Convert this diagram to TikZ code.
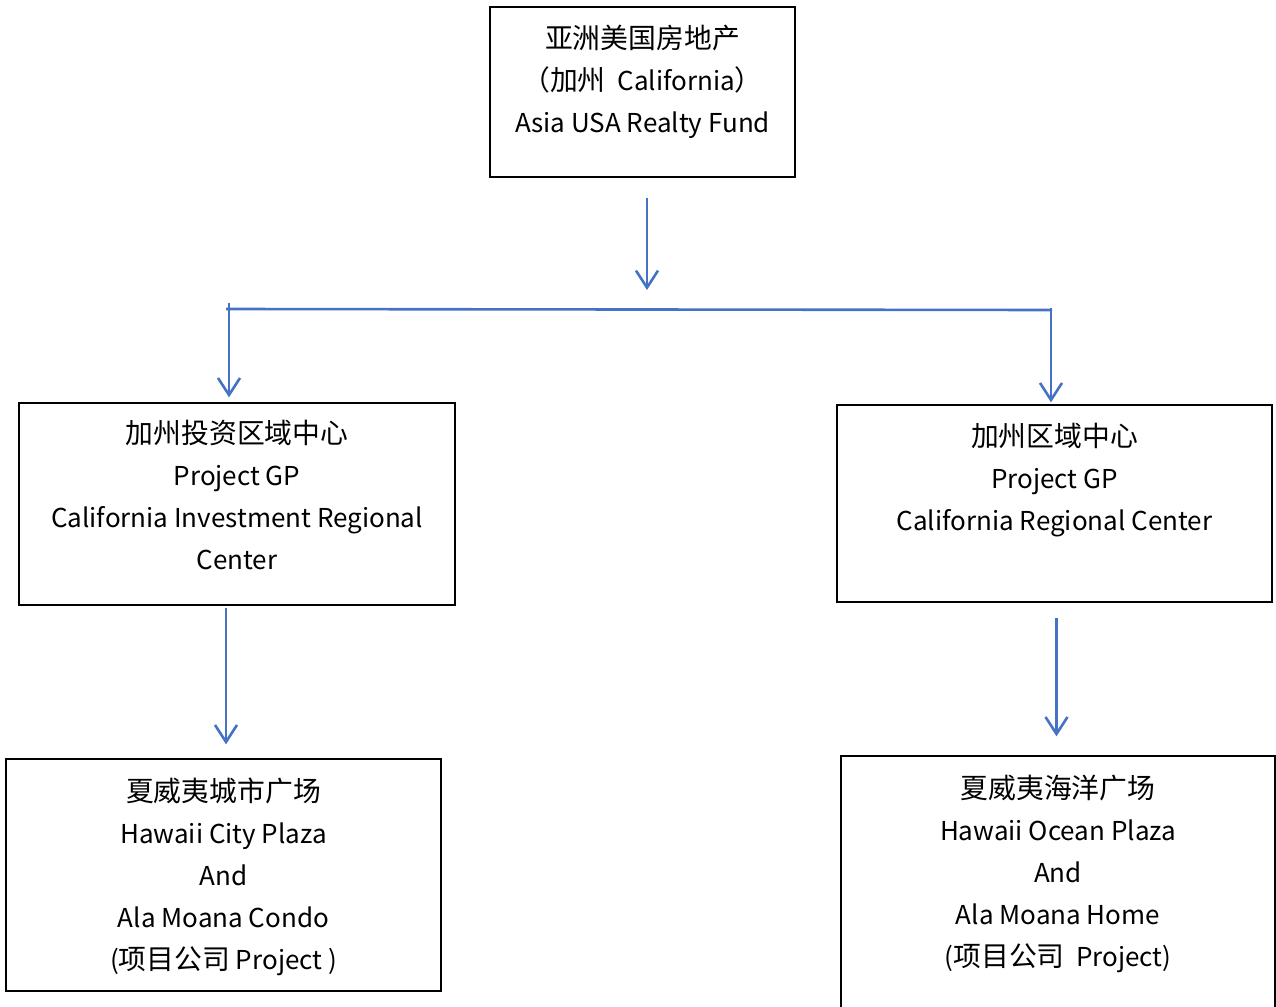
\documentclass[tikz,border=0pt]{standalone}
\usepackage{fontspec}
\setmainfont{Noto Sans CJK SC}
\newfontfamily\cjk{Noto Sans CJK SC}[Scale=1.07]
\usetikzlibrary{arrows.meta, positioning}
\definecolor{flowblue}{HTML}{4472C4}

\begin{document}
\begin{tikzpicture}[
  x=1pt, y=-1pt,
  every node/.style={font=\fontsize{26}{42}\selectfont},
  box/.style={rectangle, draw=black, line width=1.3pt, inner sep=0pt},
  boxtext/.style={align=center, inner sep=0pt, anchor=north},
  flow/.style={draw=flowblue, line width=2.6pt},
  arrow/.style={flow, -{Straight Barb[length=17pt, width=22pt]}},
]
\useasboundingbox (0,0) rectangle (1276,1006);

% Fund
\node[box, minimum width=305pt, minimum height=170pt] (fund) at (642.5, 92) {};
\node[boxtext, below=18pt of fund.north] (fundtxt) {{\cjk 亚洲美国房地产}\\{\cjk （加州}~ California{\cjk ）}\\Asia USA Realty Fund};

% Regional centers
\node[box, minimum width=436pt, minimum height=202pt] (gpinv) at (237, 504) {};
\node[boxtext, below=18pt of gpinv.north] (gpinvtxt) {{\cjk 加州投资区域中心}\\Project GP\\California Investment Regional\\Center};
\node[box, minimum width=435pt, minimum height=197pt] (gpreg) at (1054.5, 503.5) {};
\node[boxtext, below=19pt of gpreg.north] (gpregtxt) {{\cjk 加州区域中心}\\Project GP\\California Regional Center};

% Projects
\node[box, minimum width=435pt, minimum height=232pt] (plazacity) at (223.5, 875) {};
\node[boxtext, below=19pt of plazacity.north] (plazacitytxt) {{\cjk 夏威夷城市广场}\\Hawaii City Plaza\\And\\Ala Moana Condo\\({\cjk 项目公司} Project )};
\node[box, minimum width=434pt, minimum height=260pt] (plazaocean) at (1058, 886) {};
\node[boxtext, below=19pt of plazaocean.north] (plazaoceantxt) {{\cjk 夏威夷海洋广场}\\Hawaii Ocean Plaza\\And\\Ala Moana Home\\({\cjk 项目公司}~ Project)};

% Connections
\coordinate (split) at (647, 309);
\coordinate (busL) at (229, 309);
\coordinate (busR) at (1051, 310);
\draw[arrow, shorten <=20pt, shorten >=19pt] (fund.south -| split) -- (split);
\draw[flow] ([xshift=-3pt]busL) -- ([xshift=1pt]busR);
\draw[arrow, shorten <=-6pt, shorten >=5pt] (busL) -- (busL |- gpinv.north);
\draw[arrow, shorten <=-2pt, shorten >=2pt] (busR) -- (busR |- gpreg.north);
\draw[arrow, shorten <=2pt, shorten >=14pt] ([xshift=-11pt]gpinv.south) -- ([xshift=-11pt]gpinv.south |- plazacity.north);
\draw[arrow, shorten <=15pt, shorten >=19pt] ([xshift=2pt]gpreg.south) -- ([xshift=2pt]gpreg.south |- plazaocean.north);

\end{tikzpicture}
\end{document}
